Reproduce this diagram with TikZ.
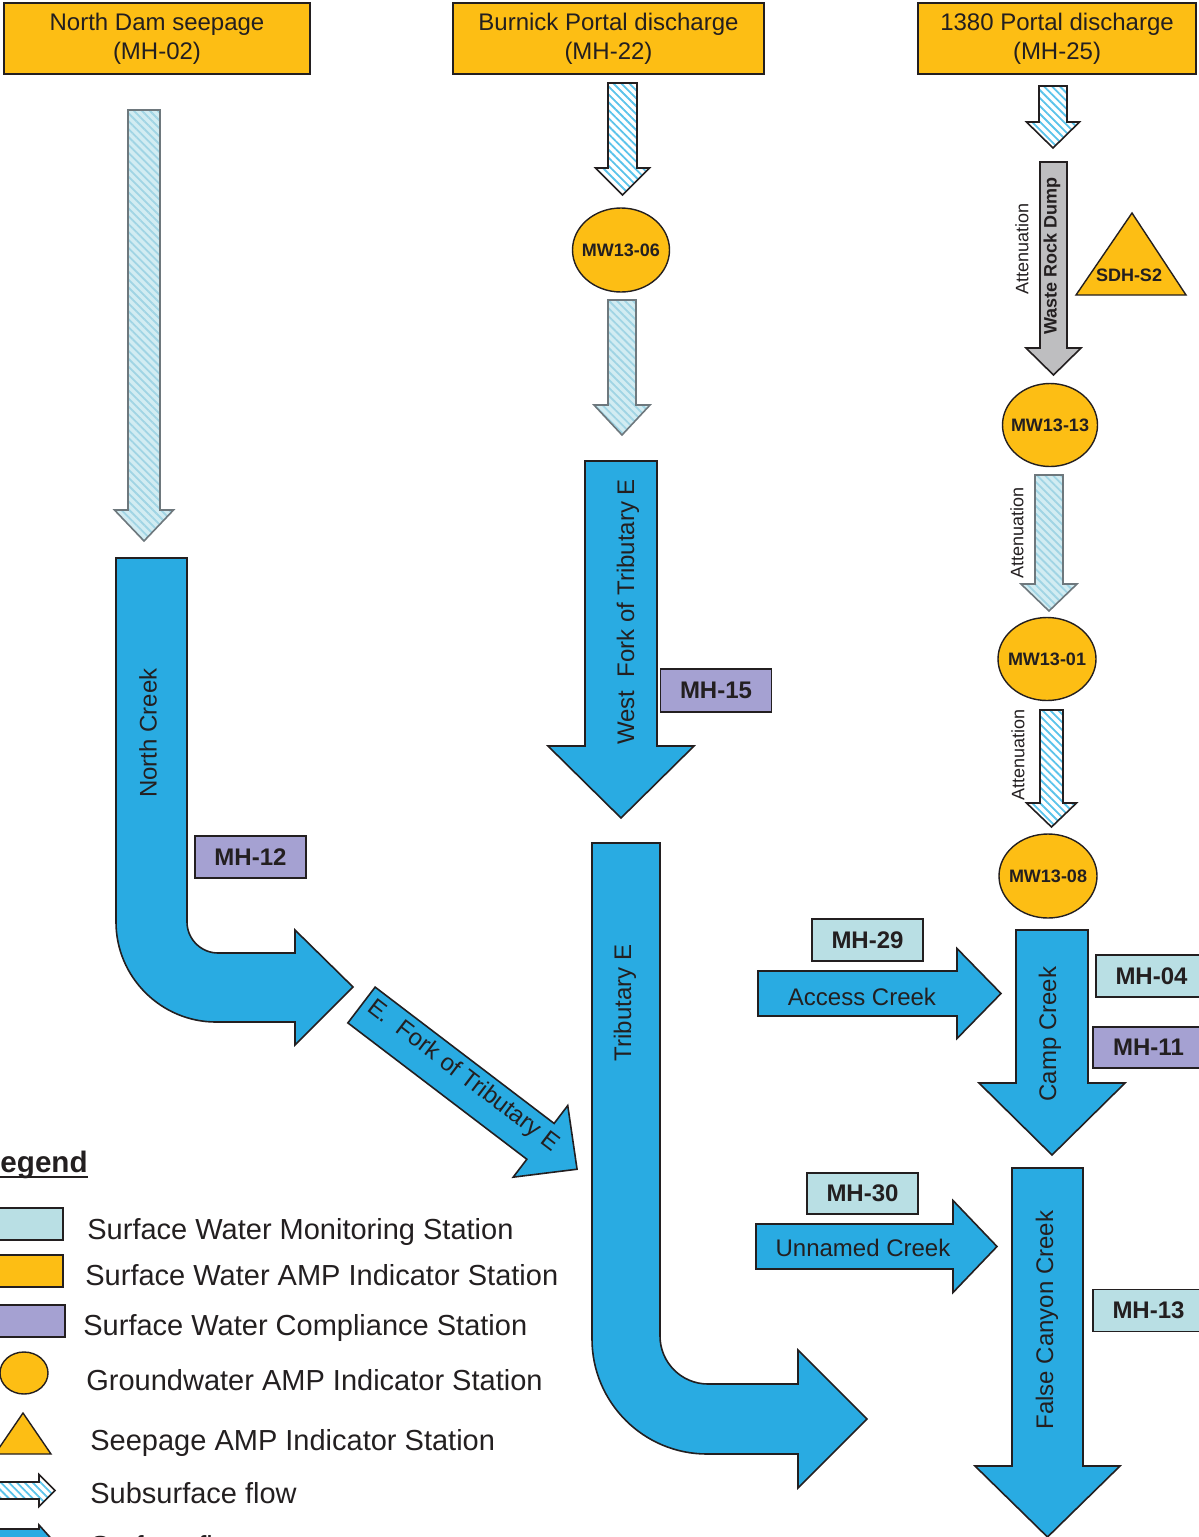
\documentclass[tikz,border=0pt]{standalone}
\usepackage{fontspec}
\setmainfont{Liberation Sans}
\usetikzlibrary{shapes.geometric, patterns.meta}

\definecolor{ampyellow}{RGB}{253,190,20}
\definecolor{flowblue}{RGB}{41,171,226}
\definecolor{swcyan}{RGB}{185,223,228}
\definecolor{swpurple}{RGB}{165,161,210}
\definecolor{linedark}{RGB}{35,31,32}
\definecolor{textdark}{RGB}{35,31,32}
\definecolor{rockgrey}{RGB}{190,190,192}
\definecolor{hatchblue}{RGB}{90,195,235}
\definecolor{palecyan}{RGB}{210,236,242}
\definecolor{palehatch}{RGB}{160,212,228}
\definecolor{palegrey}{RGB}{110,120,125}

\tikzset{
  sourcebox/.style={draw=linedark, fill=ampyellow, line width=0.7pt, align=center,
    text=textdark, inner sep=0pt, font=\fontsize{12}{14.5}\selectfont},
  station/.style={draw=linedark, line width=0.7pt, text=textdark, inner sep=0pt,
    minimum width=55.5pt, minimum height=21pt, font={\bfseries\fontsize{12}{14}\selectfont}},
  monitor/.style={station, fill=swcyan},
  compliance/.style={station, fill=swpurple},
  gwstation/.style={ellipse, draw=linedark, fill=ampyellow, line width=0.7pt, inner sep=0pt},
  gwlabel/.style={text=textdark, inner sep=0pt, font={\bfseries\fontsize{9}{10}\selectfont}},
  creek/.style={text=textdark, font=\fontsize{12}{14}\selectfont},
  atten/.style={text=textdark, rotate=90, font=\fontsize{9}{10}\selectfont},
  surfflow/.style={draw=linedark, line width=0.8pt, fill=flowblue},
  rockflow/.style={draw=linedark, line width=0.8pt, fill=rockgrey},
  subflow/.style={draw=linedark, line width=0.8pt, preaction={fill=white},
    pattern={Lines[angle=-45, distance=2.8pt, line width=0.9pt]}, pattern color=hatchblue},
  paleflow/.style={draw=palegrey, line width=0.8pt, preaction={fill=palecyan},
    pattern={Lines[angle=-45, distance=2.8pt, line width=0.9pt]}, pattern color=palehatch},
  legendtext/.style={anchor=base west, inner sep=0pt, text=textdark,
    font=\fontsize{14.5}{17}\selectfont},
}

% block arrow: [style]{x}{y}{angle}{length}{shaft half width}{head half width}{head length}
\newcommand{\flowarrow}[8][]{%
  \begin{scope}[shift={(#2,#3)}, rotate=#4]
    \draw[#1] (0,{-#6}) -- ({#5-#8},{-#6}) -- ({#5-#8},{-#7}) -- (#5,0)
      -- ({#5-#8},#7) -- ({#5-#8},#6) -- (0,#6) -- cycle;
  \end{scope}}

\begin{document}
\begin{tikzpicture}[x=0.5pt, y=-0.5pt]
\useasboundingbox (0,0) rectangle (1199,1537);

% sources
\node[sourcebox, minimum width=153pt, minimum height=35.5pt] (mh02) at (157,38.5) {North Dam seepage\\(MH-02)};
\node[sourcebox, minimum width=155.5pt, minimum height=35.5pt] (mh22) at (608.5,38.5) {Burnick Portal discharge\\(MH-22)};
\node[sourcebox, minimum width=139pt, minimum height=35.5pt] (mh25) at (1057,38.5) {1380 Portal discharge\\(MH-25)};

% subsurface flow
\flowarrow[paleflow]{144}{110}{-90}{431}{16}{29.5}{31}
\flowarrow[subflow]{622.5}{83}{-90}{112}{14.5}{27}{27}
\flowarrow[paleflow]{622}{300}{-90}{135}{14}{28}{30}
\flowarrow[subflow]{1053}{86}{-90}{62}{14}{26.5}{26}
\flowarrow[paleflow]{1049}{475}{-90}{136}{14}{28}{27}
\flowarrow[subflow]{1051.5}{710}{-90}{117}{11.5}{25}{24}

% waste rock dump
\flowarrow[rockflow]{1053.5}{162}{-90}{213}{13.5}{27.5}{27}
\node[text=textdark, rotate=90, font={\bfseries\fontsize{9}{10}\selectfont}] (wrd) at (1052,256) {Waste Rock Dump};
\node[atten] (att1) at (1022,249) {Attenuation};
\node[atten] (att2) at (1017,533) {Attenuation};
\node[atten] (att3) at (1018,755) {Attenuation};
\draw[fill=ampyellow, draw=linedark, line width=0.7pt] (1132,213) -- (1186,295) -- (1076,295) -- cycle;
\node[text=textdark, font={\bfseries\fontsize{9}{10}\selectfont}] (sdhs2) at (1129,275) {SDH-S2};

% groundwater wells
\node[gwstation, minimum width=48.5pt, minimum height=42pt] (mw1306) at (621,250) {};
\node[gwlabel] (mw1306t) at (mw1306) {MW13-06};
\node[gwstation, minimum width=47.5pt, minimum height=41.5pt] (mw1313) at (1050,425) {};
\node[gwlabel] (mw1313t) at (mw1313) {MW13-13};
\node[gwstation, minimum width=49pt, minimum height=41.5pt] (mw1301) at (1047,659) {};
\node[gwlabel] (mw1301t) at (mw1301) {MW13-01};
\node[gwstation, minimum width=49pt, minimum height=42pt] (mw1308) at (1048,876) {};
\node[gwlabel] (mw1308t) at (mw1308) {MW13-08};

% north creek
\draw[surfflow] (116,558) -- (187,558) -- (187,922) .. controls (187,939) and (201,953) .. (218,953)
  -- (295,953) -- (295,930) -- (353,987) -- (295,1045) -- (295,1022) -- (216,1022)
  .. controls (161,1022) and (116,977) .. (116,922) -- cycle;
\node[creek, rotate=90] (ncreek) at (148,733) {North Creek};
\node[compliance] (mh12) at (250.5,857) {MH-12};

% forks of tributary e
\flowarrow[surfflow]{361.5}{1005}{-37.3}{271}{22.5}{45}{46}
\node[creek, rotate=-37.3] (efork) at (463,1076) {E.\ \ Fork of Tributary E};
\flowarrow[surfflow]{621}{461}{-90}{357}{36}{73}{72}
\node[creek, rotate=90] (wfork) at (628,612) {West\ \ Fork of Tributary E};
\node[compliance, minimum height=21.5pt] (mh15) at (716,690.5) {MH-15};

% tributary e
\draw[surfflow] (592,843) -- (660,843) -- (660,1336) .. controls (660,1362.5) and (681.5,1384) .. (708,1384)
  -- (798,1384) -- (798,1350) -- (867,1419) -- (798,1488) -- (798,1454) -- (707,1454)
  .. controls (643.5,1454) and (592,1402.5) .. (592,1339) -- cycle;
\node[creek, rotate=90] (tribe) at (625,1003) {Tributary E};

% camp creek
\flowarrow[surfflow]{1052}{930}{-90}{225}{36}{73}{72}
\node[creek, rotate=90] (camp) at (1050,1034) {Camp Creek};
\flowarrow[surfflow]{758}{993.5}{0}{243}{22.5}{45}{44}
\node[creek] (access) at (862,997) {Access Creek};
\node[monitor] (mh29) at (867.5,940) {MH-29};
\node[monitor] (mh04) at (1151.5,976) {MH-04};
\node[compliance, minimum height=20.5pt] (mh11) at (1148.5,1047.5) {MH-11};

% false canyon creek
\flowarrow[surfflow]{1047.5}{1168}{-90}{369}{35.5}{72.5}{71}
\node[creek, rotate=90] (fcc) at (1047,1320) {False Canyon Creek};
\flowarrow[surfflow]{756}{1246.5}{0}{241}{22.5}{46}{44}
\node[creek] (unnamed) at (863,1248) {Unnamed Creek};
\node[monitor, minimum height=20.5pt] (mh30) at (862.5,1193.5) {MH-30};
\node[monitor] (mh13) at (1148.5,1310.5) {MH-13};

% legend
\node[anchor=base west, inner sep=0pt, text=textdark, font={\bfseries\fontsize{14.8}{17}\selectfont}] (leg) at (-18,1172) {Legend};
\draw[line width=1.3pt, linedark] (leg.base west) ++(0,5) -- ++(106,0);
\node[draw=linedark, fill=swcyan, line width=0.7pt, minimum width=34pt, minimum height=16pt, inner sep=0pt] (legsw1) at (29,1224) {};
\node[draw=linedark, fill=ampyellow, line width=0.7pt, minimum width=34pt, minimum height=16pt, inner sep=0pt] (legsw2) at (29,1271) {};
\node[draw=linedark, fill=swpurple, line width=0.7pt, minimum width=35pt, minimum height=16pt, inner sep=0pt] (legsw3) at (30,1321) {};
\node[ellipse, draw=linedark, fill=ampyellow, line width=0.7pt, minimum width=24pt, minimum height=21pt, inner sep=0pt] (legsw4) at (24,1373) {};
\draw[fill=ampyellow, draw=linedark, line width=0.7pt] (23,1413) -- (51,1454) -- (-5,1454) -- cycle;
\flowarrow[subflow]{-5}{1490.5}{0}{60}{8.5}{16}{16}
\flowarrow[surfflow]{-5}{1545}{0}{62}{16}{20}{18}
\node[legendtext] (legt1) at (87,1239) {Surface Water Monitoring Station};
\node[legendtext] (legt2) at (85,1285) {Surface Water AMP Indicator Station};
\node[legendtext] (legt3) at (83,1335) {Surface Water Compliance Station};
\node[legendtext] (legt4) at (86,1390) {Groundwater AMP Indicator Station};
\node[legendtext] (legt5) at (90,1450) {Seepage AMP Indicator Station};
\node[legendtext] (legt6) at (90,1503) {Subsurface flow};
\node[legendtext] (legt7) at (90,1556) {Surface flow};

\end{tikzpicture}
\end{document}
